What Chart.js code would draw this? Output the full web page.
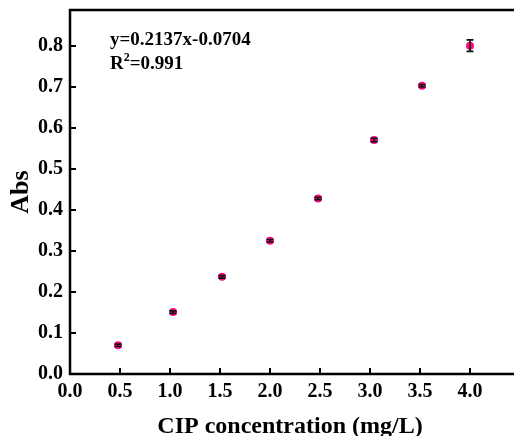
<!DOCTYPE html>
<html>
<head>
<meta charset="utf-8">
<script src="https://cdn.jsdelivr.net/npm/chart.js@4.4.1/dist/chart.umd.min.js"></script>
<style>
  html, body { margin: 0; padding: 0; background: #fff; }
  #wrap { width: 514px; height: 436px; }
</style>
</head>
<body>
<div id="wrap"><canvas id="myChart" width="514" height="436"></canvas></div>
<script>
// concentrations (mg/L) and absorbance
const conc = [0.48, 1.03, 1.52, 2.0, 2.48, 3.04, 3.52, 4.0];
const abs = [0.070, 0.151, 0.237, 0.325, 0.428, 0.571, 0.703, 0.801];
const absErr = [0.003, 0.003, 0.003, 0.003, 0.003, 0.004, 0.003, 0.014];
const xTicks = [0.0, 0.5, 1.0, 1.5, 2.0, 2.5, 3.0, 3.5, 4.0];
const yTicks = [0.0, 0.1, 0.2, 0.3, 0.4, 0.5, 0.6, 0.7, 0.8];
const fitText = ['y=0.2137x-0.0704', 'R', '2', '=0.991'];

const serif = '"Liberation Serif", "Times New Roman", serif';

// error bars, inward ticks, frame lines, equation text
const extras = {
    id: 'extras',
    afterDatasetsDraw(chart) {
        const c = chart.ctx;
        const xs = chart.scales.x, ys = chart.scales.y;
        const area = chart.chartArea;
        c.save();
        c.strokeStyle = '#111';
        c.lineWidth = 1.6;
        conc.forEach((v, i) => {
            const px = xs.getPixelForValue(v);
            const top = ys.getPixelForValue(abs[i] + absErr[i]);
            const bot = ys.getPixelForValue(abs[i] - absErr[i]);
            c.beginPath();
            c.moveTo(px, top); c.lineTo(px, bot);
            c.moveTo(px - 3.5, top); c.lineTo(px + 3.5, top);
            c.moveTo(px - 3.5, bot); c.lineTo(px + 3.5, bot);
            c.stroke();
        });
        // frame
        c.strokeStyle = '#000';
        c.lineWidth = 2.5;
        c.beginPath();
        c.moveTo(514, area.top);
        c.lineTo(area.left, area.top);
        c.lineTo(area.left, area.bottom);
        c.lineTo(514, area.bottom);
        c.stroke();
        // inward ticks
        c.lineWidth = 2;
        c.beginPath();
        xTicks.forEach(t => {
            const px = xs.getPixelForValue(t);
            c.moveTo(px, area.bottom); c.lineTo(px, area.bottom - 6);
        });
        yTicks.forEach(t => {
            const py = ys.getPixelForValue(t);
            c.moveTo(area.left, py); c.lineTo(area.left + 6, py);
        });
        c.stroke();
        // fit equation
        c.fillStyle = '#000';
        c.textBaseline = 'middle';
        c.font = 'bold 19px ' + serif;
        c.fillText(fitText[0], 110, 40);
        c.fillText(fitText[1], 110, 64);
        const w = c.measureText(fitText[1]).width;
        c.font = 'bold 12px ' + serif;
        c.fillText(fitText[2], 110 + w, 58);
        const w2 = c.measureText(fitText[2]).width;
        c.font = 'bold 19px ' + serif;
        c.fillText(fitText[3], 110 + w + w2, 64);
        c.restore();
    }
};

const ctx = document.getElementById('myChart').getContext('2d');
const myChart = new Chart(ctx, {
    type: 'scatter',
    data: {
        datasets: [{
            label: 'Abs',
            data: conc.map((x, i) => ({ x: x, y: abs[i] })),
            backgroundColor: '#ff0a84',
            borderColor: '#ff0a84',
            pointRadius: 4,
            pointHoverRadius: 4,
            borderWidth: 0
        }]
    },
    options: {
        responsive: false,
        animation: false,
        layout: { padding: { top: 10, right: 0, left: 0, bottom: 0 } },
        plugins: {
            legend: { display: false },
            tooltip: { enabled: false }
        },
        scales: {
            x: {
                type: 'linear',
                min: 0,
                max: 4.40,
                afterFit(scale) {
                    scale.height = 62;
                    scale.paddingLeft = 0;
                    scale.paddingRight = 0;
                },
                grid: { display: false, drawTicks: false },
                border: { display: false },
                ticks: {
                    stepSize: 0.5,
                    includeBounds: false,
                    padding: 6,
                    color: '#000',
                    font: { family: serif, size: 20, weight: 'bold' },
                    callback: v => v.toFixed(1)
                },
                title: {
                    display: true,
                    text: 'CIP concentration (mg/L)',
                    color: '#000',
                    font: { family: serif, size: 24, weight: 'bold' },
                    padding: { top: 2, bottom: -5 }
                }
            },
            y: {
                type: 'linear',
                min: 0,
                max: 0.888,
                afterFit(scale) {
                    scale.width = 70;
                    scale.paddingTop = 0;
                    scale.paddingBottom = 0;
                },
                grid: { display: false, drawTicks: false },
                border: { display: false },
                ticks: {
                    stepSize: 0.1,
                    includeBounds: false,
                    padding: 7,
                    color: '#000',
                    font: { family: serif, size: 20, weight: 'bold' },
                    callback: v => v.toFixed(1)
                },
                title: {
                    display: true,
                    text: 'Abs',
                    color: '#000',
                    font: { family: serif, size: 26, weight: 'bold' },
                    padding: { top: 6, bottom: 0 }
                }
            }
        }
    },
    plugins: [extras]
});
</script>
</body>
</html>
